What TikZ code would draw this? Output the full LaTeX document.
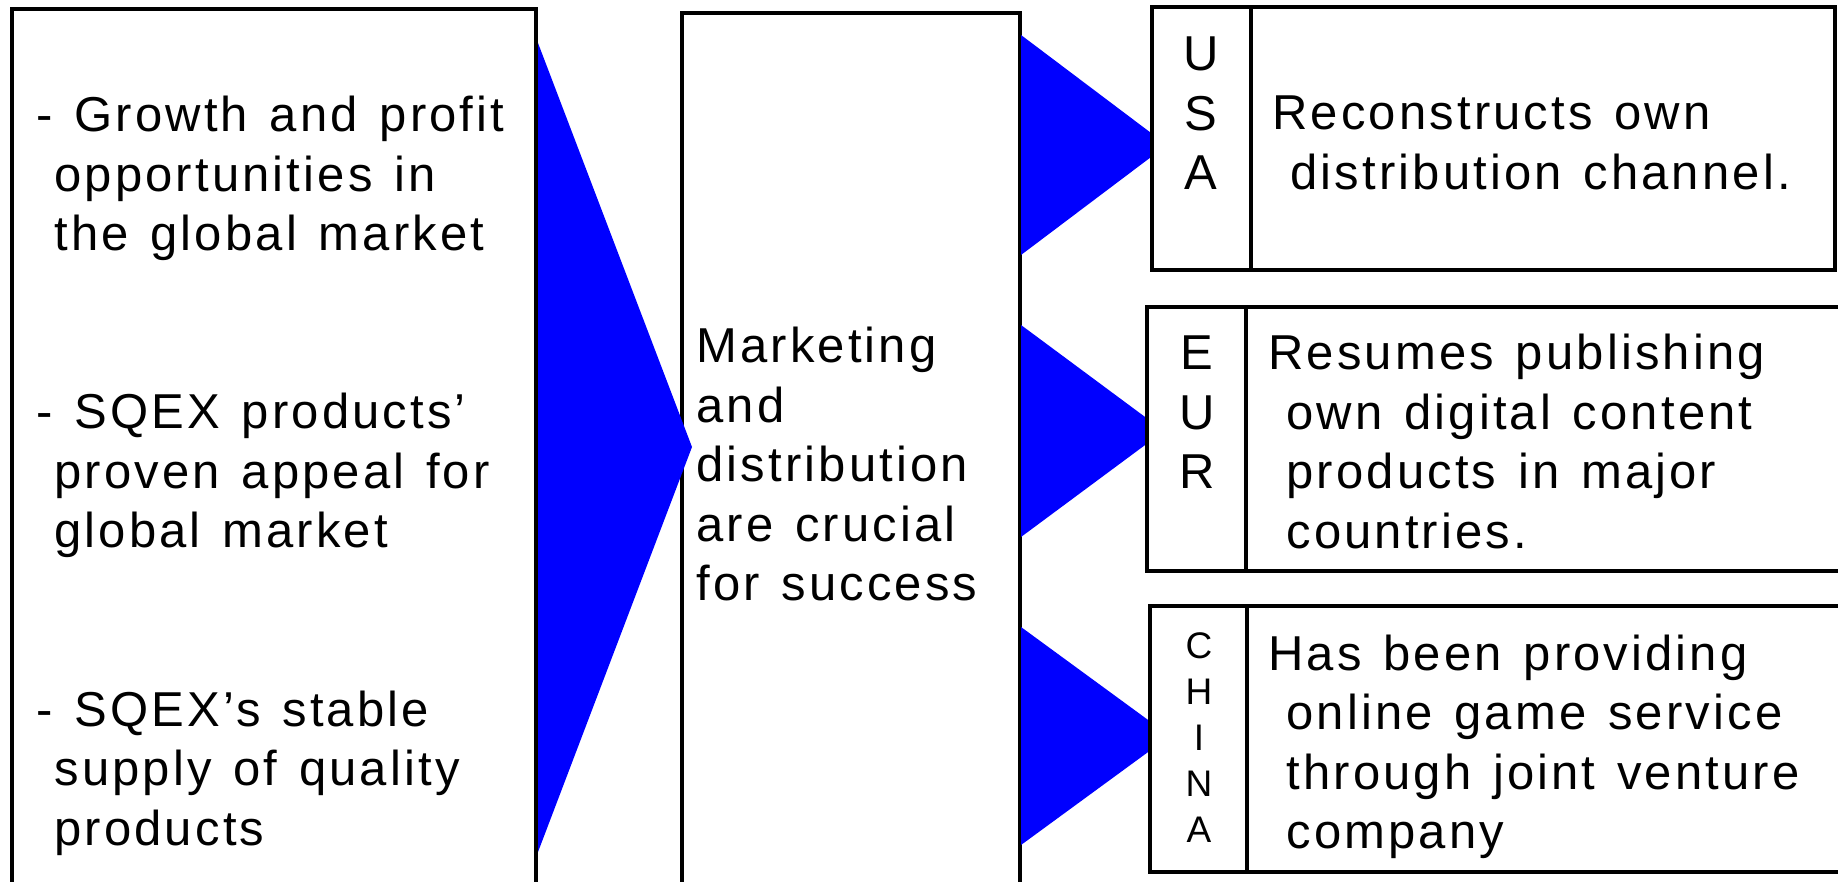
\documentclass[tikz,border=0pt]{standalone}
\usepackage{fontspec}
\setmainfont[LetterSpace=6.4,WordSpace={1.3}]{Liberation Sans}
\definecolor{arrowblue}{RGB}{0,0,255}
\newcommand{\bigtxt}{\fontsize{24.5}{29.75}\selectfont}
\newcommand{\smalltxt}{\fontsize{18.5}{23.1}\selectfont}
\newcommand{\ind}{\hspace{9pt}}
\begin{document}
\begin{tikzpicture}[x=0.5pt,y=-0.5pt,
  box/.style={draw=black, line width=1.65pt, fill=white, inner sep=0pt, outer sep=0pt, anchor=north west},
  txt/.style={inner sep=0pt, anchor=base west, font=\bigtxt},
  lbl/.style={inner sep=0pt, anchor=base, font=\bigtxt},
  slbl/.style={inner sep=0pt, anchor=base, font=\smalltxt},
  wedge/.style={fill=arrowblue}]
\useasboundingbox (0,0) rectangle (1838,882);
\clip (0,0) rectangle (1838,882);
% left and middle boxes
\node[box, minimum width=262pt, minimum height=450pt] (leftbox) at (12,9) {};
\node[box, minimum width=169pt, minimum height=450pt] (midbox) at (682,13) {};
% big wedge
\fill[wedge] (538,43) -- (692,447) -- (538,852) -- cycle;
% small wedges
\fill[wedge] (1021,35) -- (1167,145) -- (1021,255) -- cycle;
\fill[wedge] (1021,325) -- (1164,431) -- (1021,537) -- cycle;
\fill[wedge] (1021,627) -- (1170,736) -- (1021,845) -- cycle;
% right boxes
\node[box, minimum width=49.5pt, minimum height=131.5pt] (usalbl) at (1152,7) {};
\node[box, minimum width=292pt, minimum height=131.5pt] (usabox) at (1251,7) {};
\node[box, minimum width=49.5pt, minimum height=132pt] (eurlbl) at (1147,307) {};
\node[box, minimum width=320pt, minimum height=132pt] (eurbox) at (1246,307) {};
\node[box, minimum width=48.5pt, minimum height=133pt] (chnlbl) at (1150,606) {};
\node[box, minimum width=320pt, minimum height=133pt] (chnbox) at (1247,606) {};
% left texts
\node[txt] (p1) at (36,132) {\begin{tabular}[t]{@{}l@{}}- Growth and profit\\ \ind opportunities in\\ \ind the global market\end{tabular}};
\node[txt] (p2) at (36,429) {\begin{tabular}[t]{@{}l@{}}- SQEX products’\\ \ind proven appeal for\\ \ind global market\end{tabular}};
\node[txt] (p3) at (36,726) {\begin{tabular}[t]{@{}l@{}}- SQEX’s stable\\ \ind supply of quality\\ \ind products\end{tabular}};
% middle text
\node[txt] (mtxt) at (696,363) {\begin{tabular}[t]{@{}l@{}}Marketing\\ and\\ distribution\\ are crucial\\ for success\end{tabular}};
% labels
\node[lbl] (usal) at (1201,71) {\begin{tabular}[t]{@{}c@{}}U\\ S\\ A\end{tabular}};
\node[lbl] (eurl) at (1197,370) {\begin{tabular}[t]{@{}c@{}}E\\ U\\ R\end{tabular}};
\node[slbl] (chnl) at (1199,658) {\begin{tabular}[t]{@{}c@{}}C\\ H\\ I\\ N\\ A\end{tabular}};
% right texts
\node[txt] (usat) at (1272,130) {\begin{tabular}[t]{@{}l@{}}Reconstructs own\\ \ind distribution channel.\end{tabular}};
\node[txt] (eurt) at (1268,370) {\begin{tabular}[t]{@{}l@{}}Resumes publishing\\ \ind own digital content\\ \ind products in major\\ \ind countries.\end{tabular}};
\node[txt] (chnt) at (1268,670) {\begin{tabular}[t]{@{}l@{}}Has been providing\\ \ind online game service\\ \ind through joint venture\\ \ind company\end{tabular}};
\end{tikzpicture}
\end{document}
